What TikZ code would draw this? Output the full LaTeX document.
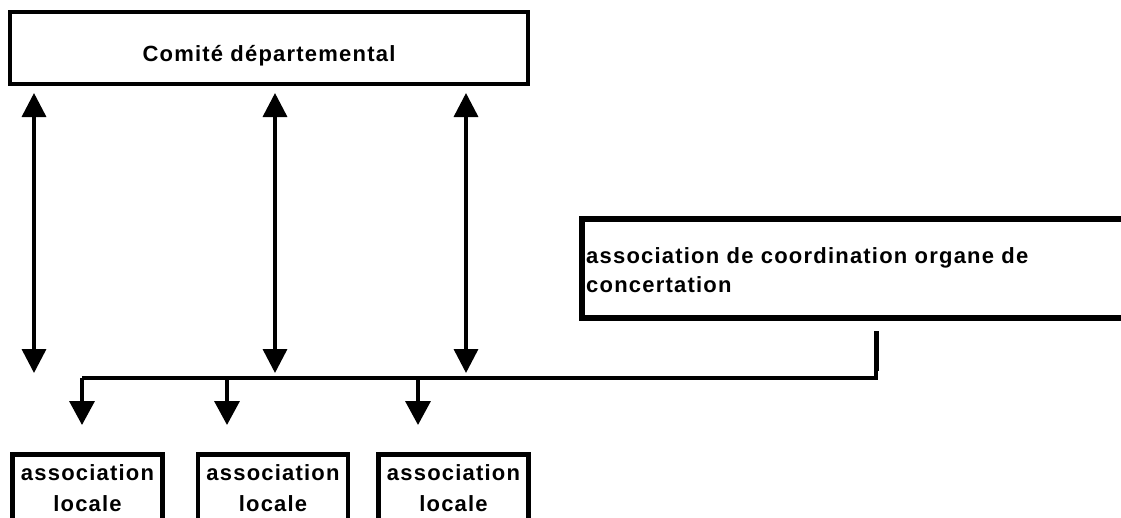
\documentclass[tikz,border=0pt]{standalone}
\usepackage{fontspec}
\setmainfont{Liberation Sans}[LetterSpace=5.5]
\usetikzlibrary{arrows.meta}
\tikzset{
  lbl/.style={font=\fontsize{22}{31}\selectfont\bfseries, inner sep=0pt},
  topbox/.style={draw, line width=4pt, inner sep=0pt},
  coordbox/.style={draw, line width=6pt, inner sep=0pt},
  locbox/.style={draw, line width=4.5pt, lbl, align=center, anchor=north, text width=150pt, inner xsep=0pt, inner ysep=10pt, text height=16pt, text depth=80pt},
  link/.style={line width=3.5pt, -{Triangle[width=25pt,length=24pt]}},
  dlink/.style={line width=3.5pt, {Triangle[width=24pt,length=24pt]}-{Triangle[width=24pt,length=24pt]}},
  bus/.style={line width=4pt}
}
\begin{document}
\begin{tikzpicture}[x=1pt,y=-1pt]
\useasboundingbox (0,0) rectangle (1121,517);
\clip (0,0) rectangle (1121,517);
\fill[white] (0,0) rectangle (1121,517);
% top box
\node[topbox, minimum width=518pt, minimum height=72pt] (cd) at (269,48) {};
\node[lbl, anchor=base] (cdtext) at (269,61) {Comité départemental};
% coordination box
\node[coordbox, minimum width=560pt, minimum height=99pt, anchor=north west] (ac) at (579,216) {};
\node[lbl, font=\fontsize{22}{29}\selectfont\bfseries, align=left, anchor=base west] (actext) at (586,292) {association de coordination organe de\\concertation};
% local boxes
\node[locbox] (l1) at (87.5,452) {association\\locale};
\node[locbox] (l2) at (273,452) {association\\locale};
\node[locbox] (l3) at (453.5,452) {association\\locale};
% double arrows
\coordinate (d1t) at (34,93);  \coordinate (d1b) at (34,373);
\coordinate (d2t) at (275,93); \coordinate (d2b) at (275,373);
\coordinate (d3t) at (466,93); \coordinate (d3b) at (466,373);
\draw[dlink] (d1t) -- (d1b);
\draw[dlink] (d2t) -- (d2b);
\draw[dlink] (d3t) -- (d3b);
% bus
\coordinate (bs) at (876,331);
\coordinate (bc) at (876,378);
\coordinate (b1) at (82,378);
\coordinate (b2) at (227,378);
\coordinate (b3) at (418,378);
\draw[bus, line join=miter] (bs) -- (bc) -- (b1);
\draw[line width=5pt] (bs) -- ++(0,40);
\coordinate (t1) at (82,425);
\coordinate (t2) at (227,425);
\coordinate (t3) at (418,425);
\draw[link] (b1) -- (t1);
\draw[link] (b2) -- (t2);
\draw[link] (b3) -- (t3);
\end{tikzpicture}
\end{document}
